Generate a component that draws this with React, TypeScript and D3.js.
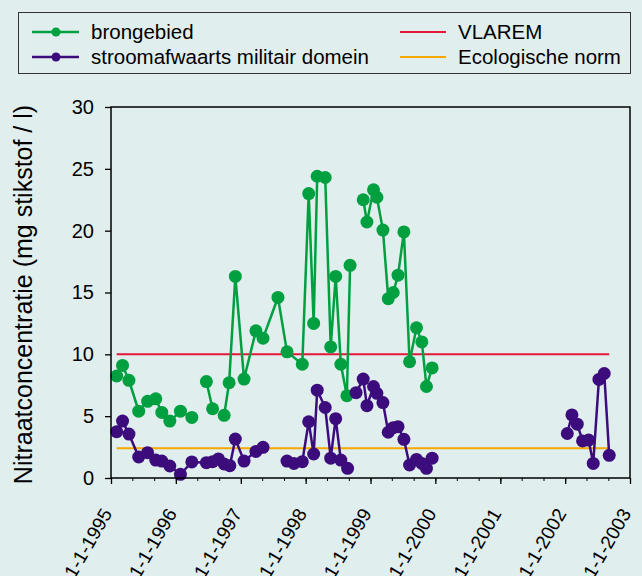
import React, { useEffect, useRef } from 'react';
import * as d3 from 'd3';

const W = 642;
const H = 576;
const MARGIN = { top: 107, right: 12, bottom: 98, left: 111 };
const FONT = 'Liberation Sans, Arial, sans-serif';

const BG = '#E0EEEE';
const GREEN = '#00A040';
const PURPLE = '#3C0C7C';
const RED = '#E4173B';
const ORANGE = '#F5A800';

// brongebied (null = break in the line)
const greenDates = [
  '1995-02-02', '1995-03-07', '1995-04-12', '1995-06-06', '1995-07-26', '1995-09-10', '1995-10-14', '1995-11-28',
  '1996-01-27', '1996-03-31', '1996-05-10', '1996-06-21', '1996-07-26', '1996-08-28', '1996-09-29', '1996-10-27',
  '1996-12-01', '1997-01-19', '1997-03-27', '1997-05-06', '1997-07-29', '1997-09-18', '1997-12-13', '1998-01-18',
  '1998-02-15', '1998-03-07', '1998-04-21', '1998-05-22', '1998-06-19', '1998-07-18', '1998-08-21', '1998-09-08',
  '1998-10-12', '1998-11-21', '1998-12-12', '1999-01-18', '1999-02-06', '1999-03-12', '1999-04-11', '1999-05-09',
  '1999-06-05', '1999-07-08', '1999-08-09', '1999-09-17', '1999-10-17', '1999-11-12', '1999-12-14'
];
const greenValues = [
  8.25, 9.1, 7.9, 5.4, 6.2, 6.4, 5.3, 4.6,
  5.4, 4.9, null, 7.8, 5.6, null, 5.07, 7.7,
  16.3, 8.0, 11.9, 11.3, 14.6, 10.2, 9.2, 23.0,
  12.5, 24.4, 24.3, 10.6, 16.3, 9.2, 6.65, 17.2,
  null, 22.5, 20.7, 23.3, 22.7, 20.05, 14.5, 15.0,
  16.4, 19.9, 9.4, 12.15, 11.0, 7.4, 8.9
];

// stroomafwaarts militair domein
const purpleDates = [
  '1995-02-02', '1995-03-07', '1995-04-12', '1995-06-06', '1995-07-26', '1995-09-10', '1995-10-14', '1995-11-28',
  '1996-01-27', '1996-03-31', '1996-06-21', '1996-07-26', '1996-08-28', '1996-09-29', '1996-10-31', '1996-12-01',
  '1997-01-19', '1997-03-27', '1997-05-06', '1997-07-29', '1997-09-18', '1997-10-27', '1997-12-13', '1998-01-18',
  '1998-02-15', '1998-03-07', '1998-04-21', '1998-05-22', '1998-06-19', '1998-07-18', '1998-08-25', '1998-09-11',
  '1998-10-12', '1998-11-21', '1998-12-12', '1999-01-18', '1999-02-06', '1999-03-12', '1999-04-11', '1999-05-09',
  '1999-06-05', '1999-07-08', '1999-08-09', '1999-09-17', '1999-10-17', '1999-11-12', '1999-12-14', '2000-06-01',
  '2002-01-13', '2002-02-08', '2002-03-10', '2002-04-09', '2002-05-13', '2002-06-08', '2002-07-10', '2002-08-09',
  '2002-09-06'
];
const purpleValues = [
  3.75, 4.6, 3.55, 1.7, 2.05, 1.45, 1.37, 0.97,
  0.3, 1.3, 1.24, 1.32, 1.54, 1.13, 1.0, 3.15,
  1.37, 2.15, 2.48, null, 1.37, 1.18, 1.32, 4.55,
  1.94, 7.1, 5.7, 1.6, 4.8, 1.45, 0.78, null,
  6.9, 8.0, 5.85, 7.4, 6.85, 6.1, 3.7, 4.07,
  4.15, 3.13, 1.05, 1.5, 1.18, 0.78, 1.6, null,
  3.6, 5.1, 4.35, 3.0, 3.07, 1.18, 7.97, 8.45,
  1.83
];

// norms
const normDates = ['1995-02-02', '2002-09-06'];
const vlaremValue = 10;
const ecoValue = 2.4;

const xDomain = ['1995-01-01', '2003-01-01'];
const yTicks = [0, 5, 10, 15, 20, 25, 30];

const parse = d3.timeParse('%Y-%m-%d');
const fmt = d3.timeFormat('%-d-%-m-%Y');

export default function App() {
  const xAxisRef = useRef<SVGGElement>(null);
  const xMinorRef = useRef<SVGGElement>(null);
  const yAxisRef = useRef<SVGGElement>(null);

  const x = d3.scaleTime()
    .domain(xDomain.map((d) => parse(d) as Date))
    .range([MARGIN.left, W - MARGIN.right]);
  const y = d3.scaleLinear().domain([0, 30]).range([H - MARGIN.bottom, MARGIN.top]);

  const green = greenDates.map((d, i) => ({ date: parse(d) as Date, value: greenValues[i] }));
  const purple = purpleDates.map((d, i) => ({ date: parse(d) as Date, value: purpleValues[i] }));

  const line = d3.line<{ date: Date; value: number | null }>()
    .defined((d) => d.value != null)
    .x((d) => x(d.date))
    .y((d) => y(d.value as number));

  useEffect(() => {
    const years = d3.timeYear.range(x.domain()[0], d3.timeDay.offset(x.domain()[1], 1));
    const xAxis = d3.axisBottom(x).tickValues(years).tickSize(6).tickFormat(() => '');
    const gx = d3.select(xAxisRef.current!).call(xAxis);
    gx.select('.domain').remove();
    gx.selectAll('line').attr('stroke', '#000').attr('stroke-width', 1.3);

    const minor = d3.timeMonth.every(4)!.range(x.domain()[0], x.domain()[1]);
    const xMinor = d3.axisBottom(x).tickValues(minor).tickSize(3).tickFormat(() => '');
    const gm = d3.select(xMinorRef.current!).call(xMinor);
    gm.select('.domain').remove();
    gm.selectAll('line').attr('stroke', '#000').attr('stroke-width', 1);

    const yAxis = d3.axisLeft(y).tickValues(yTicks).tickSize(6).tickPadding(11);
    const gy = d3.select(yAxisRef.current!).call(yAxis);
    gy.select('.domain').remove();
    gy.selectAll('line').attr('stroke', '#000').attr('stroke-width', 1.3);
    gy.selectAll('text')
      .attr('font-family', FONT)
      .attr('font-size', 20)
      .attr('fill', '#000');
  }, []);

  const yearTicks = d3.timeYear.range(x.domain()[0], d3.timeDay.offset(x.domain()[1], 1));
  const x0 = MARGIN.left;
  const x1 = W - MARGIN.right;
  const y0 = H - MARGIN.bottom;
  const y1 = MARGIN.top;

  const normX0 = x(parse(normDates[0]) as Date);
  const normX1 = x(parse(normDates[1]) as Date);

  return (
    <svg width={W} height={H} style={{ position: 'absolute', left: 0, top: 0, display: 'block', background: BG }}>
      <rect x={0} y={0} width={W} height={H} fill={BG} />

      {/* legend */}
      <g fontFamily={FONT} fontSize={20.5} fill="#000">
        <rect x={18.5} y={12.5} width={612} height={61} fill="none" stroke="#333" strokeWidth={1} />
        <line x1={32} x2={79} y1={32} y2={32} stroke={GREEN} strokeWidth={2.5} />
        <circle cx={56} cy={32} r={4.5} fill={GREEN} />
        <text x={91} y={39}>brongebied</text>
        <line x1={32} x2={79} y1={57} y2={57} stroke={PURPLE} strokeWidth={2.5} />
        <circle cx={56} cy={57} r={4.5} fill={PURPLE} />
        <text x={91} y={64}>stroomafwaarts militair domein</text>
        <line x1={400} x2={446} y1={32} y2={32} stroke={RED} strokeWidth={2} />
        <text x={458} y={39}>VLAREM</text>
        <line x1={400} x2={446} y1={57} y2={57} stroke={ORANGE} strokeWidth={2} />
        <text x={458} y={64}>Ecologische norm</text>
      </g>

      {/* norms */}
      <line x1={normX0} x2={normX1} y1={y(vlaremValue)} y2={y(vlaremValue)} stroke={RED} strokeWidth={2} />
      <line x1={normX0} x2={normX1} y1={y(ecoValue)} y2={y(ecoValue)} stroke={ORANGE} strokeWidth={2} />

      {/* series */}
      <path d={line(green) || ''} fill="none" stroke={GREEN} strokeWidth={2.5} />
      {green.filter((d) => d.value != null).map((d, i) => (
        <circle key={'g' + i} cx={x(d.date)} cy={y(d.value as number)} r={6.5} fill={GREEN} />
      ))}
      <path d={line(purple) || ''} fill="none" stroke={PURPLE} strokeWidth={2.5} />
      {purple.filter((d) => d.value != null).map((d, i) => (
        <circle key={'p' + i} cx={x(d.date)} cy={y(d.value as number)} r={6.5} fill={PURPLE} />
      ))}

      {/* frame */}
      <rect x={x0} y={y1} width={x1 - x0} height={y0 - y1} fill="none" stroke="#000" strokeWidth={1.5} />

      <g ref={xMinorRef} transform={`translate(0,${y0})`} />
      <g ref={xAxisRef} transform={`translate(0,${y0})`} />
      <g ref={yAxisRef} transform={`translate(${x0},0)`} />

      {/* rotated date labels (cut at the bottom edge, as in the original) */}
      <g fontFamily={FONT} fontSize={19} fill="#000">
        {yearTicks.map((d, i) => (
          <text key={i} transform={`translate(${x(d) - 4},510) rotate(-60)`} textAnchor="end" dy="0.35em">
            {fmt(d)}
          </text>
        ))}
      </g>

      <text
        transform={`translate(32,${(y0 + y1) / 2 + 2}) rotate(-90)`}
        textAnchor="middle"
        fontFamily={FONT}
        fontSize={25}
        fill="#000"
      >
        Nitraatconcentratie (mg stikstof / l)
      </text>
    </svg>
  );
}
